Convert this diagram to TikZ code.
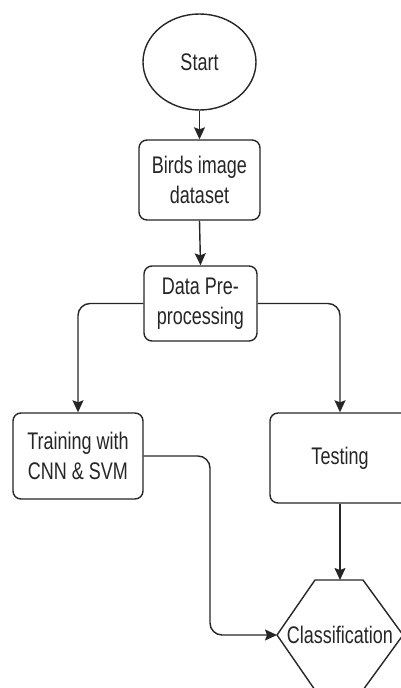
\documentclass[tikz,border=0pt]{standalone}
\usepackage{fontspec}
\newfontfamily\lsans[FakeStretch=0.75]{Liberation Sans}
\usetikzlibrary{shapes.geometric,arrows.meta}
\begin{document}
\begin{tikzpicture}[x=1pt,y=-1pt,
  every node/.style={font=\lsans\fontsize{24}{30}\selectfont, text=black!85, align=center, inner sep=0pt},
  box/.style={draw=black!85, line width=1.4pt, rounded corners=8pt, fill=white},
  conn/.style={draw=black!85, line width=1.4pt, -{Stealth[length=12pt,width=11pt,inset=2pt]}},
  link/.style={draw=black!85, line width=1.4pt, rounded corners=12pt, -{Stealth[length=12pt,width=11pt,inset=2pt]}}]
\useasboundingbox (0,0) rectangle (401,688);
\node[ellipse, draw=black!85, line width=1.4pt, minimum width=113pt, minimum height=96pt] (start) at (199.5,62) {Start};
\node[box, minimum width=121pt, minimum height=80pt] (birds) at (199.5,180) {Birds image\\dataset};
\node[box, minimum width=113pt, minimum height=75pt] (data) at (200.5,303.5) {Data Pre-\\processing};
\node[box, minimum width=130pt, minimum height=86pt] (train) at (78,456) {Training with\\CNN \& SVM};
\node[box, minimum width=140pt, minimum height=90pt] (test) at (340,458) {Testing};
\draw[draw=black!85, line width=1.4pt, line join=round] (277,635) -- (315,580) -- (363,580) -- (403,635) -- (363,690) -- (315,690) -- cycle;
\node (class) at (340,635) {Classification};
\coordinate (hexT) at (340,580);
\coordinate (hexL) at (277,635);
\coordinate (mid) at (210,545);
\draw[conn] (start.south) -- (birds.north);
\draw[conn] (birds.south) -- (data.north);
\draw[link] (data.west) -| (train.north);
\draw[link] (data.east) -| (test.north);
\draw[conn] (test.south) -- (hexT);
\draw[link] (train.east) -| (mid) |- (hexL);
\end{tikzpicture}
\end{document}
